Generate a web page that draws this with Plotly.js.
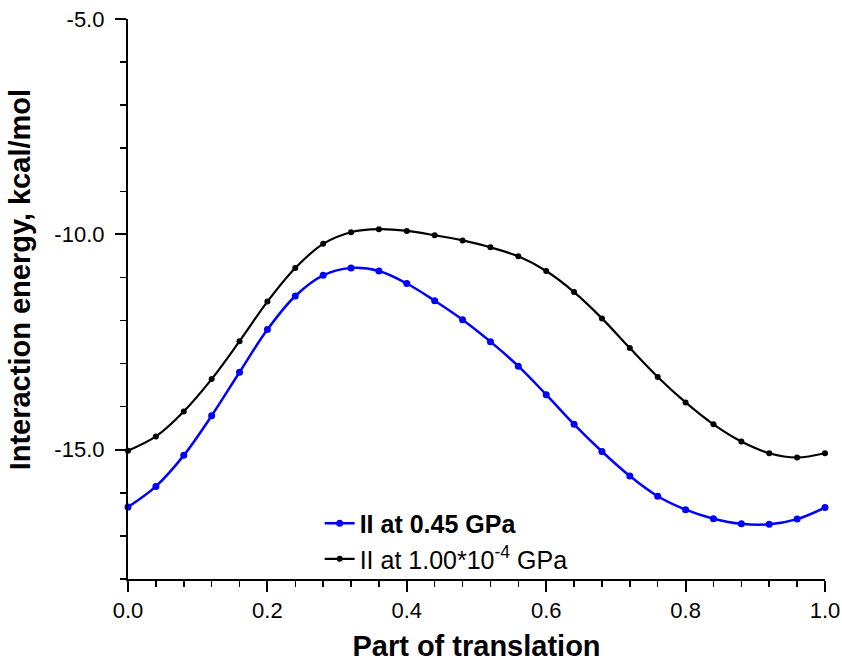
<!DOCTYPE html>
<html>
<head>
<meta charset="utf-8">
<script src="https://cdn.plot.ly/plotly-3.0.1.min.js"></script>
<style>html,body{margin:0;padding:0;background:#fff;}#chart{width:842px;height:662px;}</style>
</head>
<body>
<div id="chart"></div>
<script>
// Data
const partOfTranslation = [0.00,0.04,0.08,0.12,0.16,0.20,0.24,0.28,0.32,0.36,0.40,0.44,0.48,0.52,0.56,0.60,0.64,0.68,0.72,0.76,0.80,0.84,0.88,0.92,0.96,1.00];
const energyHighP = [-16.33,-15.85,-15.13,-14.21,-13.20,-12.21,-11.43,-10.95,-10.78,-10.85,-11.14,-11.54,-11.98,-12.49,-13.06,-13.72,-14.41,-15.04,-15.61,-16.08,-16.39,-16.60,-16.72,-16.73,-16.61,-16.34];
const energyLowP = [-15.02,-14.69,-14.11,-13.36,-12.48,-11.56,-10.78,-10.22,-9.95,-9.88,-9.92,-10.02,-10.14,-10.30,-10.51,-10.85,-11.34,-11.95,-12.64,-13.31,-13.90,-14.41,-14.81,-15.08,-15.18,-15.08];
const seriesNames = ["<b>II at 0.45 GPa</b>", "II at 1.00*10<sup>-4</sup> GPa"];
const xTickVals = [0, 0.2, 0.4, 0.6, 0.8, 1.0];
const xTickText = ["0.0", "0.2", "0.4", "0.6", "0.8", "1.0"];
const yTickVals = [-5, -10, -15];
const yTickText = ["-5.0", "-10.0", "-15.0"];
const xTitle = "Part of translation";
const yTitle = "Interaction energy, kcal/mol";

const FONT = "Liberation Sans, Arial, sans-serif";

const traces = [
  {
    x: partOfTranslation, y: energyHighP, name: seriesNames[0],
    type: "scatter", mode: "lines+markers",
    line: {color: "#0000FF", width: 2.5, shape: "spline"},
    marker: {color: "#0000FF", size: 7},
    cliponaxis: false, legendgroup: "a"
  },
  {
    x: partOfTranslation, y: energyLowP, name: seriesNames[1],
    type: "scatter", mode: "lines+markers",
    line: {color: "#000000", width: 2.2, shape: "spline"},
    marker: {color: "#000000", size: 6},
    cliponaxis: false, legendgroup: "b"
  }
];

const layout = {
  width: 842, height: 662,
  margin: {l: 128, r: 17, t: 19, b: 83, pad: 0},
  paper_bgcolor: "#ffffff", plot_bgcolor: "#ffffff",
  font: {family: FONT, color: "#000000"},
  showlegend: true,
  legend: {
    x: 0.275, y: 0.14, xanchor: "left", yanchor: "top",
    font: {family: FONT, size: 25, color: "#000"},
    bgcolor: "rgba(0,0,0,0)", borderwidth: 0,
    tracegroupgap: 0, traceorder: "grouped", itemwidth: 30
  },
  xaxis: {
    range: [0, 1], showgrid: false, zeroline: false,
    showline: true, linecolor: "#000", linewidth: 2,
    ticks: "outside", ticklen: 11, tickwidth: 2, tickcolor: "#000",
    tickmode: "array", tickvals: xTickVals, ticktext: xTickText,
    tickfont: {family: FONT, size: 22, color: "#000"},
    minor: {dtick: 0.04, tick0: 0, ticks: "outside", ticklen: 6, tickwidth: 1.5, tickcolor: "#000", showgrid: false},
    title: {text: "<b>" + xTitle + "</b>", font: {family: FONT, size: 29, color: "#000"}, standoff: 15},
    fixedrange: true
  },
  yaxis: {
    range: [-18, -5], showgrid: false, zeroline: false,
    showline: true, linecolor: "#000", linewidth: 2,
    ticks: "outside", ticklen: 11, tickwidth: 2, tickcolor: "#000",
    tickmode: "array", tickvals: yTickVals,
    ticktext: yTickText.map(t => t + "\u00a0"),
    tickfont: {family: FONT, size: 22, color: "#000"},
    minor: {dtick: 1, tick0: -5, ticks: "outside", ticklen: 6, tickwidth: 1.5, tickcolor: "#000", showgrid: false},
    fixedrange: true
  },
  annotations: [
    {
      text: "<b>" + yTitle + "</b>", textangle: -90,
      xref: "paper", yref: "paper", x: -0.155, y: 0.535,
      xanchor: "center", yanchor: "middle", showarrow: false,
      font: {family: FONT, size: 29, color: "#000"}
    }
  ]
};

Plotly.newPlot("chart", traces, layout, {displayModeBar: false, staticPlot: true});
</script>
</body>
</html>
